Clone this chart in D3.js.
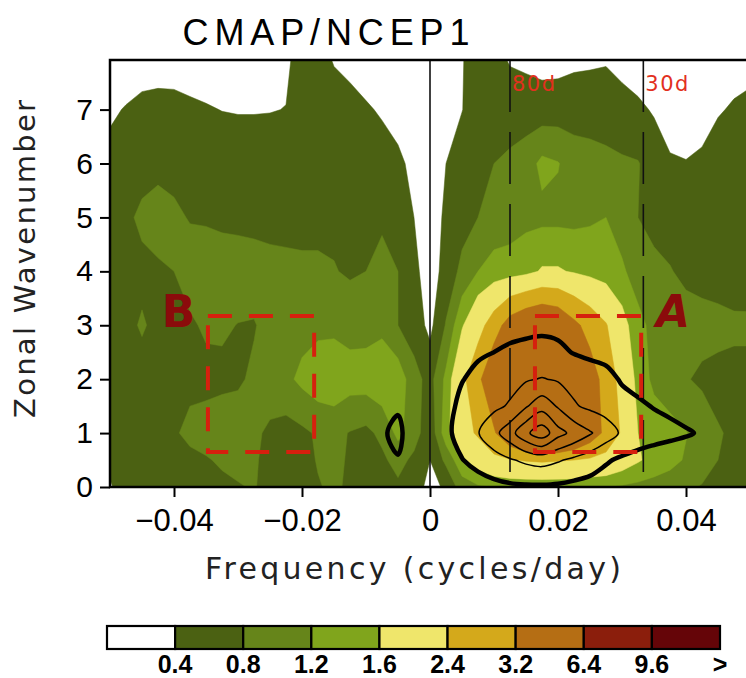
<!DOCTYPE html>
<html>
<head>
<meta charset="utf-8">
<script src="https://cdn.jsdelivr.net/npm/d3@7"></script>
<style>
body { margin: 0; background: #fff; }
svg { display: block; }
</style>
</head>
<body>
<script>
// wavenumber-frequency power of CMAP precip (shaded) and the model field (black lines)
var freqStart = -0.05, freqStep = 0.0025;            // 41 columns, -0.05 .. 0.05 cycles/day
var waveRows = [0, 0.5, 1, 2, 3, 4, 5, 6, 7, 8];      // wavenumber of each row below

var power = [
  // k = 0
  [0.38,0.5,0.55,0.6,0.62,0.65,0.68,0.72,0.78,0.82,0.7,0.6,0.68,0.78,0.85,0.75,0.65,0.7,0.72,0.55,0.3,0.45,1.0,1.15,1.2,1.25,1.25,1.25,1.25,1.25,1.2,1.2,1.15,1.1,1.05,0.95,0.85,0.78,0.74,0.72,0.72],
  // k = 0.5
  [0.45,0.55,0.6,0.65,0.68,0.72,0.77,0.85,0.88,0.84,0.7,0.6,0.7,0.82,0.88,0.76,0.68,0.72,0.95,0.7,0.4,0.9,1.5,1.85,2.2,2.35,2.45,2.5,2.45,2.4,2.3,2.15,1.9,1.65,1.45,1.35,1.15,0.95,0.8,0.75,0.72],
  // k = 1
  [0.55,0.6,0.65,0.7,0.76,0.88,0.95,1.0,0.95,0.85,0.75,0.65,0.72,0.85,0.9,0.78,0.7,0.9,1.3,1.0,0.5,1.45,2.1,2.5,3.1,4.0,5.0,5.5,5.2,4.5,3.7,3.0,2.3,1.6,1.45,1.35,1.22,0.98,0.82,0.76,0.74],
  // k = 2
  [0.6,0.62,0.65,0.68,0.7,0.72,0.7,0.72,0.76,0.85,0.95,1.1,1.3,1.45,1.5,1.38,1.4,1.5,1.45,0.95,0.65,1.3,2.2,3.0,4.0,5.0,5.6,5.8,5.4,4.6,3.6,2.9,2.1,1.45,1.1,0.95,0.82,0.75,0.72,0.72,0.72],
  // k = 3
  [0.6,0.7,0.84,0.7,0.7,0.75,0.85,0.85,0.79,0.78,0.9,1.0,1.05,1.1,1.1,1.05,1.05,1.1,0.8,0.6,0.3,0.83,1.55,2.1,2.8,3.6,4.0,4.2,4.0,3.4,2.9,2.45,1.8,1.3,1.1,1.0,0.95,0.9,0.88,0.85,0.85],
  // k = 4
  [0.6,0.65,0.7,0.75,0.8,0.95,1.0,1.0,1.0,0.95,0.9,0.88,0.85,0.85,0.82,0.75,0.8,1.0,0.8,0.5,0.2,0.55,0.9,1.2,1.3,1.35,1.45,1.65,1.65,1.55,1.45,1.35,1.25,1.05,0.9,0.82,0.72,0.7,0.68,0.66,0.65],
  // k = 5
  [0.6,0.72,0.88,0.95,0.86,0.78,0.76,0.72,0.7,0.7,0.7,0.7,0.72,0.72,0.72,0.72,0.72,0.7,0.6,0.4,0.12,0.5,0.65,0.8,1.05,1.05,1.1,1.1,1.1,1.1,1.15,1.2,1.05,0.8,0.68,0.65,0.62,0.6,0.6,0.6,0.6],
  // k = 6
  [0.5,0.6,0.65,0.7,0.7,0.7,0.7,0.7,0.7,0.7,0.7,0.7,0.72,0.72,0.7,0.68,0.65,0.6,0.48,0.3,0.1,0.4,0.6,0.7,0.8,0.88,1.0,1.3,1.22,1.0,0.95,0.9,0.85,0.82,0.63,0.45,0.42,0.48,0.63,0.7,0.72],
  // k = 7
  [0.35,0.42,0.5,0.53,0.52,0.48,0.44,0.39,0.37,0.37,0.38,0.41,0.65,0.65,0.6,0.55,0.45,0.35,0.25,0.15,0.1,0.25,0.39,0.6,0.6,0.6,0.6,0.58,0.6,0.62,0.62,0.6,0.55,0.48,0.36,0.2,0.15,0.22,0.36,0.45,0.5],
  // k = 8
  [0.2,0.2,0.2,0.2,0.2,0.15,0.1,0.15,0.15,0.15,0.15,0.3,0.6,0.55,0.35,0.25,0.15,0.1,0.1,0.1,0.1,0.2,0.38,0.55,0.5,0.35,0.3,0.25,0.25,0.3,0.32,0.35,0.25,0.15,0.1,0.1,0.1,0.1,0.1,0.2,0.25]
];

var levels = [0.4, 0.8, 1.2, 1.6, 2.4, 3.2, 6.4, 9.6];
var colors = ["#ffffff", "#4b6112", "#66851a", "#80a51c", "#efe66b", "#d4a91b", "#b56e14", "#8b1e0c", "#650508"];
var barLabels = ["0.4", "0.8", "1.2", "1.6", "2.4", "3.2", "6.4", "9.6", ">"];

// black contour field, on its own small grid
var lineFreqStart = -0.01, lineFreqStep = 0.0025;   // 23 columns
var lineWaveStart = 0, lineWaveStep = 0.5;          // 7 rows, k = 0 .. 3
var lineField = [
  [0.2,0.2,0.3,0.2,0.1,0.3,0.5,0.6,0.75,0.85,0.88,0.88,0.85,0.75,0.65,0.55,0.45,0.35,0.3,0.25,0.2,0.2,0.2],
  [0.3,0.6,0.95,0.6,0.3,0.6,0.97,1.3,1.6,1.9,2.2,2.36,2.1,1.8,1.5,1.1,0.85,0.63,0.5,0.4,0.35,0.3,0.3],
  [0.4,0.9,1.2,0.5,0.3,0.8,1.35,1.95,2.7,3.6,4.8,5.6,4.35,3.7,3.1,2.5,1.85,1.6,1.4,1.25,1.1,0.9,0.6],
  [0.4,0.8,0.9,0.5,0.3,0.6,1.3,1.55,1.8,2.1,2.9,3.6,2.9,2.1,1.8,1.6,1.35,1.15,0.95,0.8,0.6,0.5,0.4],
  [0.3,0.5,0.6,0.4,0.3,0.5,0.95,1.3,1.5,1.7,1.9,2.05,1.9,1.7,1.5,1.3,0.9,0.7,0.6,0.5,0.4,0.35,0.3],
  [0.3,0.4,0.4,0.3,0.2,0.4,0.6,0.85,1.0,1.15,1.25,1.3,1.2,0.95,0.8,0.7,0.6,0.5,0.45,0.4,0.3,0.3,0.3],
  [0.2,0.3,0.3,0.2,0.2,0.3,0.4,0.5,0.6,0.7,0.75,0.8,0.75,0.65,0.55,0.5,0.45,0.4,0.35,0.3,0.3,0.3,0.3]
];
var thickLevel = [1];
var thinLevels = [2, 3, 4, 5];

// reference periods and boxes
var periods = [{ f: 1 / 80, label: "80d" }, { f: 1 / 30, label: "30d" }];
var boxes = [
  { name: "A", f0: 0.0164, f1: 0.033, k0: 0.65, k1: 3.17, lx: 0.0353 },
  { name: "B", f0: -0.0347, f1: -0.0181, k0: 0.65, k1: 3.17, lx: -0.0419 }
];

var xTicks = [-0.04, -0.02, 0, 0.02, 0.04];
var xTickLabels = ["\u22120.04", "\u22120.02", "0", "0.02", "0.04"];
var yTicks = [0, 1, 2, 3, 4, 5, 6, 7];

var width = 746, height = 678;
var svg = d3.select("body").append("svg").attr("width", width).attr("height", height);

var x = d3.scaleLinear().domain([-0.05, 0.05]).range([110, 750]);
var y = d3.scaleLinear().domain([0, 7.92]).range([487, 60]);
var rowToWave = d3.scaleLinear().domain(d3.range(waveRows.length)).range(waveRows);

svg.append("clipPath").attr("id", "plotclip")
  .append("rect").attr("x", 110).attr("y", 60).attr("width", 640).attr("height", 427);

var plot = svg.append("g").attr("clip-path", "url(#plotclip)");

// shaded power
var nx = power[0].length, ny = power.length;
var flat = [];
power.forEach(function(row) { row.forEach(function(v) { flat.push(v); }); });

var fillPath = d3.geoPath(d3.geoTransform({
  point: function(px, py) {
    this.stream.point(x(freqStart + (px - 0.5) * freqStep), y(rowToWave(py - 0.5)));
  }
}));

plot.append("rect").attr("x", 110).attr("y", 60).attr("width", 640).attr("height", 427).attr("fill", colors[0]);

var bands = d3.contours().size([nx, ny]).thresholds(levels)(flat);
plot.selectAll("path.band")
  .data(bands)
  .enter().append("path")
  .attr("class", "band")
  .attr("d", fillPath)
  .attr("fill", function(d) { return colors[levels.indexOf(d.value) + 1]; })
  .attr("stroke", function(d) { return colors[levels.indexOf(d.value) + 1]; })
  .attr("stroke-width", 0.5);

// zero line and period lines
plot.append("line")
  .attr("x1", x(0)).attr("x2", x(0)).attr("y1", 60).attr("y2", 487)
  .attr("stroke", "#111").attr("stroke-width", 1.6);

plot.selectAll("line.period")
  .data(periods)
  .enter().append("line")
  .attr("class", "period")
  .attr("x1", function(d) { return x(d.f); }).attr("x2", function(d) { return x(d.f); })
  .attr("y1", 60).attr("y2", 487)
  .attr("stroke", "#111").attr("stroke-width", 1.6)
  .attr("stroke-dasharray", "52,20");

// black contour lines, smoothed through the marching squares vertices
var lnx = lineField[0].length, lny = lineField.length;
var lflat = [];
lineField.forEach(function(row) { row.forEach(function(v) { lflat.push(v); }); });

var ringLine = d3.line().curve(d3.curveCatmullRomClosed.alpha(0.5));
function ringsOf(geom) {
  var out = [];
  geom.coordinates.forEach(function(poly) {
    poly.forEach(function(ring) {
      var pts = ring.slice(0, ring.length - 1).map(function(p) {
        return [x(lineFreqStart + (p[0] - 0.5) * lineFreqStep), y(lineWaveStart + (p[1] - 0.5) * lineWaveStep)];
      });
      out.push(pts);
    });
  });
  return out;
}

var lineGen = d3.contours().size([lnx, lny]);
function drawLines(lv, w) {
  lineGen.thresholds(lv)(lflat).forEach(function(geom) {
    ringsOf(geom).forEach(function(pts) {
      plot.append("path")
        .attr("d", ringLine(pts))
        .attr("fill", "none")
        .attr("stroke", "#000")
        .attr("stroke-width", w)
        .attr("stroke-linejoin", "round");
    });
  });
}
drawLines(thinLevels, 1.5);
drawLines(thickLevel, 4.5);

// boxes A and B
plot.selectAll("rect.box")
  .data(boxes)
  .enter().append("rect")
  .attr("class", "box")
  .attr("x", function(d) { return x(d.f0); })
  .attr("y", function(d) { return y(d.k1); })
  .attr("width", function(d) { return x(d.f1) - x(d.f0); })
  .attr("height", function(d) { return y(d.k0) - y(d.k1); })
  .attr("fill", "none")
  .attr("stroke", "#d6200e")
  .attr("stroke-width", 4)
  .attr("stroke-dasharray", "24,17");

svg.selectAll("text.boxname")
  .data(boxes)
  .enter().append("text")
  .attr("class", "boxname")
  .attr("x", function(d) { return x(d.lx); })
  .attr("y", 327)
  .attr("fill", "#8b0b0b")
  .style("font-family", "'DejaVu Sans', sans-serif")
  .style("font-weight", "bold")
  .style("font-style", function(d) { return d.name === "A" ? "italic" : "normal"; })
  .style("font-size", "44px")
  .text(function(d) { return d.name; });

svg.selectAll("text.period")
  .data(periods)
  .enter().append("text")
  .attr("class", "period")
  .attr("x", function(d) { return x(d.f) + 2; })
  .attr("y", 91)
  .attr("fill", "#e2301e")
  .style("font-family", "'DejaVu Sans', sans-serif")
  .style("font-size", "21px")
  .style("letter-spacing", "1.5px")
  .text(function(d) { return d.label; });

// frame
svg.append("rect")
  .attr("x", 110).attr("y", 60).attr("width", 640).attr("height", 427)
  .attr("fill", "none").attr("stroke", "#000").attr("stroke-width", 2.5);

// axes
var xAxis = svg.append("g")
  .attr("transform", "translate(0,487)")
  .call(d3.axisBottom(x).tickValues(xTicks).tickSize(10).tickPadding(12)
    .tickFormat(function(d, i) { return xTickLabels[i]; }));
xAxis.select(".domain").remove();
xAxis.selectAll("line").attr("stroke", "#000").attr("stroke-width", 2);
xAxis.selectAll("text")
  .attr("fill", "#000")
  .style("font-family", "'Liberation Sans', Arial, sans-serif")
  .style("font-size", "31px");

var yAxis = svg.append("g")
  .attr("transform", "translate(110,0)")
  .call(d3.axisLeft(y).tickValues(yTicks).tickSize(10).tickPadding(7).tickFormat(d3.format("d")));
yAxis.select(".domain").remove();
yAxis.selectAll("line").attr("stroke", "#000").attr("stroke-width", 2);
yAxis.selectAll("text")
  .attr("fill", "#000")
  .style("font-family", "'Liberation Sans', Arial, sans-serif")
  .style("font-size", "30px");

// titles
svg.append("text")
  .attr("x", 326).attr("y", 45)
  .attr("text-anchor", "middle")
  .attr("textLength", 287).attr("lengthAdjust", "spacing")
  .style("font-family", "'Liberation Sans', Arial, sans-serif")
  .style("font-size", "36px")
  .text("CMAP/NCEP1");

svg.append("text")
  .attr("transform", "translate(35,259) rotate(-90)")
  .attr("text-anchor", "middle")
  .attr("textLength", 318).attr("lengthAdjust", "spacing")
  .attr("fill", "#222")
  .style("font-family", "'DejaVu Sans', sans-serif")
  .style("font-size", "29px")
  .text("Zonal Wavenumber");

svg.append("text")
  .attr("x", 413).attr("y", 579)
  .attr("text-anchor", "middle")
  .attr("textLength", 416).attr("lengthAdjust", "spacing")
  .attr("fill", "#222")
  .style("font-family", "'DejaVu Sans', sans-serif")
  .style("font-size", "30px")
  .text("Frequency (cycles/day)");

// colour bar
var bar = svg.append("g");
var barX = d3.scaleLinear().domain([0, colors.length]).range([107, 720]);
bar.selectAll("rect")
  .data(colors)
  .enter().append("rect")
  .attr("x", function(d, i) { return barX(i); })
  .attr("y", 626)
  .attr("width", function(d, i) { return barX(i + 1) - barX(i); })
  .attr("height", 23)
  .attr("fill", function(d) { return d; })
  .attr("stroke", "#000")
  .attr("stroke-width", 2.2);

bar.selectAll("text")
  .data(barLabels)
  .enter().append("text")
  .attr("x", function(d, i) { return barX(i + 1); })
  .attr("y", 673)
  .attr("text-anchor", "middle")
  .style("font-family", "'Liberation Sans', Arial, sans-serif")
  .style("font-weight", "bold")
  .style("font-size", "25px")
  .text(function(d) { return d; });
</script>
</body>
</html>
